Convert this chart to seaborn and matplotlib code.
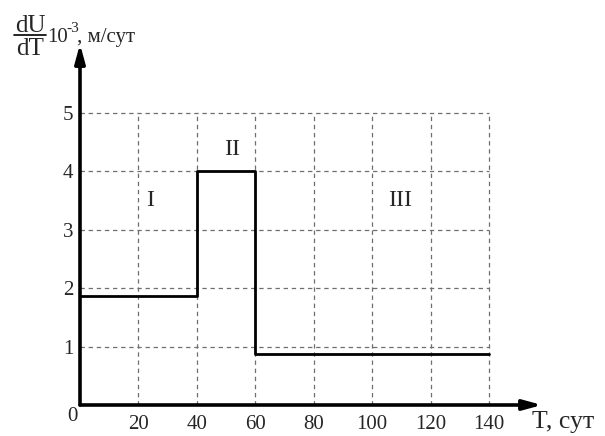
import matplotlib
matplotlib.use("Agg")
import matplotlib.pyplot as plt
import seaborn as sns
import pandas as pd

T = [0, 40, 60, 140]
rate = [1.87, 4.0, 0.87, 0.87]
x_ticks = [20, 40, 60, 80, 100, 120, 140]
y_ticks = [1, 2, 3, 4, 5]
zones = ["I", "II", "III"]
zone_x = [24, 52, 109.5]
zone_y = [3.5, 4.38, 3.5]

sns.set_style("white")
plt.rcParams['font.family'] = ['Liberation Serif', 'DejaVu Serif']

W, H = 605, 436
fig = plt.figure(figsize=(6.05, 4.36), dpi=100)
# x: 0 -> px 80, 140 -> px 489 ; y: 0 -> px 405, 5 -> px 113
sx = (489 - 80) / 140.0
sy = (405 - 113) / 5.0
xmax, ymax = 160, 6.3
ax = fig.add_axes([80 / W, (H - 405) / H, xmax * sx / W, ymax * sy / H])
ax.set_xlim(0, xmax)
ax.set_ylim(0, ymax)
for s in ax.spines.values():
    s.set_visible(False)

# grid
for xv in x_ticks:
    ax.plot([xv, xv], [0, 5], ls=(0, (3.5, 3)), color='#6f6f6f', lw=0.9, zorder=1)
for yv in y_ticks:
    ax.plot([0, 140], [yv, yv], ls=(0, (3.5, 3)), color='#6f6f6f', lw=0.9, zorder=1)

df = pd.DataFrame({"T": T, "rate": rate})
sns.lineplot(data=df, x="T", y="rate", drawstyle='steps-post', color='black', lw=2.0, ax=ax, zorder=3)
ax.set_xlabel("")
ax.set_ylabel("")

# axes arrows
ax.annotate("", xy=((542 - 80) / sx, 0), xytext=(0, 0),
            arrowprops=dict(arrowstyle='-|>,head_length=1.1,head_width=0.3', lw=2.6, color='black',
                            shrinkA=0, shrinkB=0), annotation_clip=False, zorder=4)
ax.annotate("", xy=(0, (405 - 44) / sy), xytext=(0, 0),
            arrowprops=dict(arrowstyle='-|>,head_length=1.1,head_width=0.3', lw=2.6, color='black',
                            shrinkA=0, shrinkB=0), annotation_clip=False, zorder=4)

ax.set_xticks(x_ticks)
ax.set_xticklabels([str(v) for v in x_ticks])
ax.set_yticks(y_ticks)
ax.set_yticklabels([str(v) for v in y_ticks])
ax.tick_params(axis='x', length=0, labelsize=15, pad=7)
ax.tick_params(axis='y', length=4, width=1.0, labelsize=15, pad=1)
ax.text(-8 / sx, -11 / sy, "0", ha='center', va='center', fontsize=15)

for z, zx, zy in zip(zones, zone_x, zone_y):
    ax.text(zx, zy, z, ha='center', va='center', fontsize=17)

ax.text((532 - 80) / sx, -17 / sy, "T, сут", ha='left', va='center', fontsize=18.5)

# y label fraction
fig.text(30 / W, 1 - 32 / H, "dU", ha='center', va='baseline', fontsize=18)
fig.add_artist(plt.Line2D([14 / W, 46 / W], [1 - 35.5 / H, 1 - 35.5 / H], color='black', lw=1.2))
fig.text(30 / W, 1 - 55 / H, "dT", ha='center', va='baseline', fontsize=18)
fig.text(47 / W, 1 - 42 / H, "10", ha='left', va='baseline', fontsize=15)
fig.text(66 / W, 1 - 32 / H, "-3", ha='left', va='baseline', fontsize=11)
fig.text(77 / W, 1 - 42 / H, ", м/сут", ha='left', va='baseline', fontsize=15)

fig.savefig("out.png", dpi=100)
